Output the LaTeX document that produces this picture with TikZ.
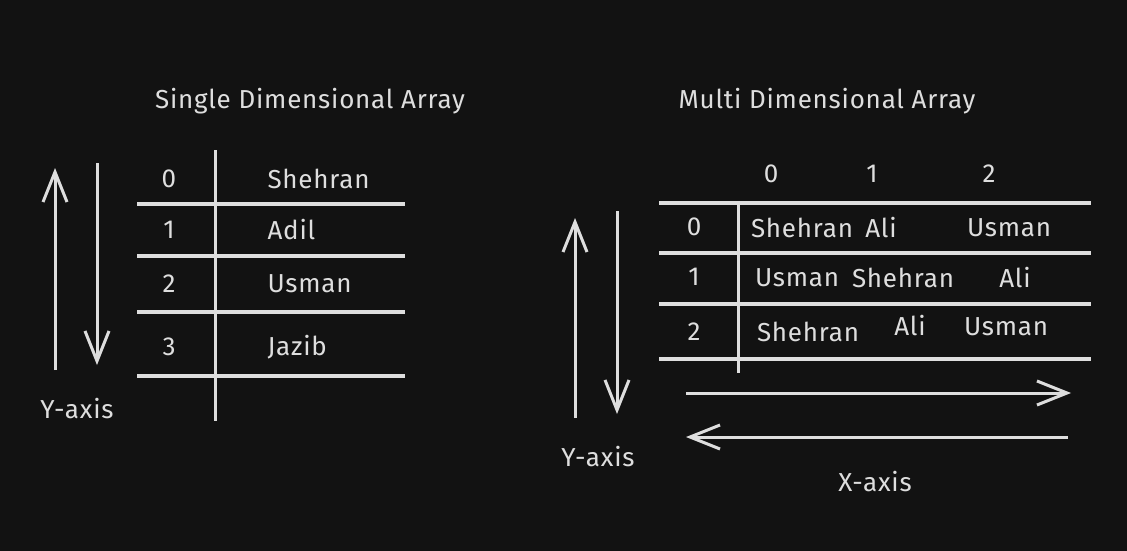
\documentclass[tikz,border=0pt]{standalone}
\usepackage{fontspec}
\setmainfont{Fira Sans}[LetterSpace=3]
\usetikzlibrary{arrows.meta}
\definecolor{bg}{HTML}{121212}
\definecolor{ink}{HTML}{DEDEDE}
\begin{document}
\begin{tikzpicture}[x=1pt,y=-1pt,color=ink,line width=3pt,
      every node/.style={inner sep=0pt,font=\fontsize{26}{30}\selectfont},
      >={Straight Barb[length=30pt,width=24pt]}]
  \fill[bg](0,0)rectangle(1127,551);
  \useasboundingbox(0,0)rectangle(1127,551);
  % single dimensional
  \node (stitle) at (310,101){Single Dimensional Array};
  \draw[->](55,370)--(55,168);
  \draw[->](97,163)--(97,365);
  \node (syaxis) at (77,409){Y-axis};
  \draw(215,150)--(215,421);
  \foreach \y in {204,256,312,376}
    \draw[line width=3.5pt](137,\y)--(405,\y);
  \foreach \y/\i/\n in {179/0/Shehran,230/1/Adil,284/2/Usman,347/3/Jazib}{
    \node (si\i) at (169,\y){\i};
    \node[anchor=west] (sn\i) at (266,\y){\n};
  }
  % multi dimensional
  \node (mtitle) at (827,101){Multi Dimensional Array};
  \foreach \x/\c in {771/0,872/1,989/2}
    \node (mc\c) at (\x,174){\c};
  \foreach \y in {203,253,304,359}
    \draw[line width=3.5pt](659,\y)--(1091,\y);
  \draw(738,201)--(738,373);
  \foreach \y/\r in {227/0,277/1,332/2}
    \node (mr\r) at (694,\y){\r};
  \foreach \x/\y/\n/\k in {802/228/Shehran/00,881/228/Ali/01,1009/228/Usman/02,
      797/278/Usman/10,903/278/Shehran/11,1015/278/Ali/12,
      808/332/Shehran/20,910/326/Ali/21,1006/327/Usman/22}
    \node (m\k) at (\x,\y){\n};
  \draw[->](575,418)--(575,218);
  \draw[->](617,211)--(617,414);
  \node (myaxis) at (598,457){Y-axis};
  \draw[->](686,393)--(1071,393);
  \draw[->](1068,437)--(686,437);
  \node (mxaxis) at (875,482){X-axis};
\end{tikzpicture}
\end{document}
